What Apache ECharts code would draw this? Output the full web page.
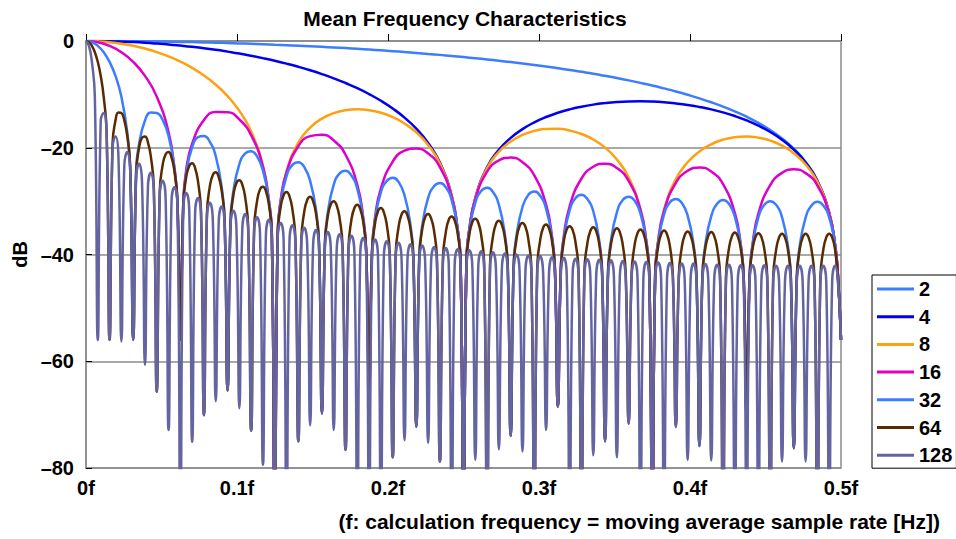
<!DOCTYPE html>
<html><head><meta charset="utf-8">
<script src="https://cdn.jsdelivr.net/npm/echarts@6/dist/echarts.min.js"></script>
<style>html,body{margin:0;padding:0;background:#fff}#chart{width:956px;height:539px}</style>
</head><body><div id="chart"></div>
<script>
// ---- data ----
const seriesNames = ['2', '4', '8', '16', '32', '64', '128'];
const xTickLabels = ['0f', '0.1f', '0.2f', '0.3f', '0.4f', '0.5f'];
const yTickLabels = ['–80', '–60', '–40', '–20', '0'];

// frequency spacing between consecutive regular readings of each curve (f units)
const step2 = 1 / 128, step4 = 1 / 128, step8 = 1 / 128, step16 = 1 / 128;
const step32 = 1 / 256, step64 = 1 / 512, step128 = 1 / 512;

// dB readings, N = 2
const db2 = [
  0, 0, -0.01, -0.02, -0.04, -0.07, -0.09, -0.13,
  -0.17, -0.21, -0.26, -0.32, -0.38, -0.45, -0.52, -0.6,
  -0.69, -0.78, -0.88, -0.98, -1.09, -1.21, -1.33, -1.46,
  -1.6, -1.75, -1.9, -2.07, -2.24, -2.42, -2.6, -2.8,
  -3.01, -3.23, -3.46, -3.7, -3.95, -4.22, -4.5, -4.79,
  -5.11, -5.43, -5.78, -6.14, -6.53, -6.94, -7.38, -7.85,
  -8.34, -8.88, -9.45, -10.07, -10.74, -11.48, -12.29, -13.19,
  -14.19, -15.34, -16.67, -18.24, -20.17, -22.67, -26.18, -32.2,
  -56
];
// N = 4
const db4 = [
  0, -0.01, -0.05, -0.12, -0.21, -0.33, -0.48, -0.65,
  -0.86, -1.09, -1.36, -1.65, -1.99, -2.35, -2.76, -3.21,
  -3.7, -4.24, -4.83, -5.48, -6.2, -6.99, -7.87, -8.84,
  -9.95, -11.2, -12.65, -14.35, -16.43, -19.08, -22.78, -28.99,
  -90, -29.41, -23.63, -20.37, -18.15, -16.51, -15.24, -14.24,
  -13.45, -12.81, -12.31, -11.92, -11.64, -11.44, -11.33, -11.3,
  -11.35, -11.48, -11.69, -11.97, -12.35, -12.81, -13.38, -14.06,
  -14.88, -15.86, -17.05, -18.51, -20.34, -22.76, -26.23, -32.21,
  -56
];
// N = 8
const db8 = [
  0, -0.06, -0.22, -0.5, -0.9, -1.42, -2.08, -2.89,
  -3.87, -5.04, -6.46, -8.19, -10.33, -13.1, -16.95, -23.38,
  -90, -24.41, -19.02, -16.22, -14.54, -13.52, -12.97, -12.8,
  -12.96, -13.44, -14.25, -15.45, -17.12, -19.47, -22.95, -29.03,
  -90, -29.46, -23.8, -20.75, -18.84, -17.6, -16.84, -16.48,
  -16.46, -16.77, -17.42, -18.45, -19.98, -22.19, -25.53, -31.48,
  -90, -31.65, -25.88, -22.72, -20.69, -19.35, -18.48, -18.02,
  -17.89, -18.1, -18.66, -19.6, -21.03, -23.14, -26.39, -32.25,
  -56
];
// N = 16
const db16 = [
  0, -0.22, -0.91, -2.1, -3.91, -6.53, -10.42, -17.1,
  -56, -19.24, -14.8, -13.29, -13.34, -14.7, -17.64, -23.55,
  -90, -24.58, -19.71, -17.83, -17.55, -18.62, -21.31, -26.99,
  -65, -27.63, -22.59, -20.55, -20.13, -21.07, -23.64, -29.19,
  -90, -29.62, -24.49, -22.35, -21.85, -22.7, -25.19, -30.67,
  -68.5, -30.96, -25.76, -23.56, -22.99, -23.79, -26.21, -31.65,
  -90, -31.82, -26.57, -24.32, -23.7, -24.45, -26.83, -32.21,
  -70, -32.29, -27.0, -24.71, -24.04, -24.75, -27.08, -32.43,
  -56
];
// N = 32
const db32 = [
  0, -0.22, -0.91, -2.11, -3.92, -6.55, -10.45, -17.13,
  -56, -19.3, -14.9, -13.4, -13.5, -14.8, -17.8, -23.7,
  -56, -24.7, -19.9, -18.0, -17.8, -18.9, -21.6, -27.4,
  -65.5, -28.05, -23.05, -21.04, -20.65, -21.63, -24.24, -29.84,
  -90, -30.4, -25.3, -23.2, -22.7, -23.6, -26.2, -31.7,
  -69.8, -32.1, -26.9, -24.8, -24.3, -25.2, -27.7, -33.2,
  -65, -33.5, -28.3, -26.2, -25.6, -26.4, -28.9, -34.4,
  -72.3, -34.6, -29.4, -27.2, -26.6, -27.4, -29.8, -35.3,
  -90, -35.5, -30.3, -28.1, -27.5, -28.3, -30.7, -36.1,
  -74, -36.3, -31.1, -28.8, -28.2, -29.0, -31.4, -36.8,
  -68.5, -37.0, -31.7, -29.4, -28.8, -29.6, -31.9, -37.3,
  -75, -37.4, -32.1, -29.8, -29.2, -29.9, -32.3, -37.7,
  -90, -37.8, -32.5, -30.2, -29.6, -30.3, -32.7, -38.1,
  -75.9, -38.1, -32.8, -30.5, -29.8, -30.5, -32.9, -38.2,
  -70, -38.3, -33.0, -30.7, -30.0, -30.7, -33.0, -38.4,
  -76.3, -38.4, -33.1, -30.8, -30.1, -30.8, -33.1, -38.4,
  -56
];
// N = 64
const db64 = [
  0, -0.22, -0.91, -2.11, -3.92, -6.55, -10.45, -17.13,
  -56, -19.3, -14.9, -13.4, -13.5, -14.9, -17.8, -23.7,
  -56, -24.8, -20.0, -18.1, -17.9, -19.0, -21.7, -27.5,
  -65.7, -28.2, -23.2, -21.2, -20.8, -21.8, -24.4, -30.1,
  -56, -30.5, -25.4, -23.4, -22.9, -23.8, -26.4, -32.0,
  -70.1, -32.4, -27.2, -25.1, -24.6, -25.5, -28.0, -33.5,
  -65.5, -34.0, -28.8, -26.6, -26.1, -26.9, -29.4, -34.9,
  -73, -35.2, -30.0, -27.8, -27.3, -28.1, -30.6, -36.1,
  -90, -36.3, -31.1, -28.9, -28.3, -29.1, -31.6, -37.0,
  -75, -37.2, -32.0, -29.8, -29.2, -30.0, -32.4, -37.9,
  -69.8, -38.1, -32.8, -30.6, -30.0, -30.8, -33.2, -38.6,
  -76.6, -38.8, -33.5, -31.3, -30.7, -31.5, -33.9, -39.3,
  -65, -39.4, -34.2, -31.9, -31.3, -32.1, -34.5, -39.9,
  -78, -40.0, -34.8, -32.5, -31.9, -32.7, -35.1, -40.5,
  -72.3, -40.6, -35.3, -33.0, -32.4, -33.2, -35.5, -40.9,
  -78.8, -41.1, -35.8, -33.5, -32.9, -33.6, -36.0, -41.4,
  -90, -41.5, -36.2, -33.9, -33.3, -34.0, -36.4, -41.8,
  -90, -41.9, -36.6, -34.3, -33.7, -34.4, -36.8, -42.2,
  -74, -42.3, -37.0, -34.7, -34.1, -34.8, -37.2, -42.6,
  -90, -42.6, -37.3, -35.0, -34.4, -35.1, -37.5, -42.9,
  -68.5, -42.9, -37.6, -35.3, -34.7, -35.4, -37.8, -43.1,
  -90, -43.1, -37.9, -35.6, -34.9, -35.6, -38.0, -43.3,
  -75, -43.4, -38.1, -35.8, -35.1, -35.8, -38.2, -43.5,
  -71.7, -43.6, -38.3, -36.0, -35.3, -36.0, -38.4, -43.7,
  -90, -43.8, -38.5, -36.2, -35.5, -36.2, -38.5, -43.9,
  -72.3, -44.0, -38.7, -36.4, -35.7, -36.4, -38.7, -44.0,
  -75.9, -44.1, -38.8, -36.5, -35.8, -36.5, -38.8, -44.1,
  -90, -44.2, -38.9, -36.6, -35.9, -36.6, -38.9, -44.2,
  -70, -44.3, -39.0, -36.7, -36.0, -36.7, -39.0, -44.3,
  -90, -44.4, -39.1, -36.8, -36.1, -36.8, -39.1, -44.4,
  -76.3, -44.4, -39.1, -36.8, -36.1, -36.8, -39.1, -44.4,
  -90, -44.4, -39.1, -36.8, -36.1, -36.8, -39.1, -44.4,
  -56
];
// N = 128
const db128 = [
  0, -0.9, -3.9, -10.5,
  -56, -14.9, -13.5, -17.8,
  -56, -20.0, -17.9, -21.7,
  -56.3, -23.2, -20.8, -24.4,
  -56, -25.5, -23.0, -26.5,
  -60.7, -27.3, -24.7, -28.1,
  -65.7, -28.8, -26.2, -29.5,
  -72.9, -30.1, -27.4, -30.7,
  -90, -31.2, -28.5, -31.7,
  -75.1, -32.2, -29.4, -32.6,
  -70.1, -33.1, -30.3, -33.5,
  -67.5, -33.9, -31.0, -34.2,
  -65.5, -34.6, -31.8, -34.9,
  -68.8, -35.2, -32.4, -35.6,
  -73, -35.9, -33.0, -36.1,
  -79.4, -36.4, -33.5, -36.7,
  -90, -36.9, -34.1, -37.2,
  -90, -37.4, -34.5, -37.7,
  -75, -37.9, -35.0, -38.1,
  -72, -38.3, -35.4, -38.5,
  -69.8, -38.7, -35.8, -38.9,
  -72.9, -39.1, -36.2, -39.3,
  -76.6, -39.5, -36.5, -39.6,
  -90, -39.8, -36.9, -40.0,
  -90, -40.1, -37.2, -40.3,
  -90, -40.4, -37.5, -40.6,
  -78, -40.7, -37.8, -40.9,
  -74.8, -41.0, -38.1, -41.1,
  -72.3, -41.3, -38.3, -41.4,
  -75.3, -41.5, -38.6, -41.6,
  -78.8, -41.8, -38.8, -41.9,
  -90, -42.0, -39.0, -42.1,
  -90, -42.2, -39.2, -42.3,
  -78.5, -42.4, -39.4, -42.5,
  -90, -42.6, -39.6, -42.7,
  -76.5, -42.8, -39.8, -42.9,
  -74, -43.0, -40.0, -43.0,
  -76.9, -43.1, -40.2, -43.2,
  -90, -43.3, -40.3, -43.4,
  -72.9, -43.4, -40.5, -43.5,
  -68.5, -43.6, -40.6, -43.7,
  -90, -43.7, -40.8, -43.8,
  -90, -43.9, -40.9, -43.9,
  -77.6, -44.0, -41.0, -44.0,
  -75, -44.1, -41.1, -44.1,
  -78, -44.2, -41.2, -44.3,
  -71.7, -44.3, -41.3, -44.4,
  -90, -44.4, -41.4, -44.5,
  -90, -44.5, -41.5, -44.5,
  -90, -44.6, -41.6, -44.6,
  -72.3, -44.6, -41.7, -44.7,
  -78.5, -44.7, -41.7, -44.8,
  -75.9, -44.8, -41.8, -44.8,
  -78.6, -44.8, -41.9, -44.9,
  -90, -44.9, -41.9, -44.9,
  -90, -45.0, -42.0, -45.0,
  -90, -45.0, -42.0, -45.0,
  -90, -45.0, -42.0, -45.1,
  -90, -45.1, -42.1, -45.1,
  -78.8, -45.1, -42.1, -45.1,
  -76.3, -45.1, -42.1, -45.1,
  -78.8, -45.1, -42.1, -45.1,
  -90, -45.1, -42.1, -45.1,
  -90, -45.1, -42.1, -45.1,
  -56
];

// extra readings taken close to the notches ([f, dB])
const nearNull2 = [[0.49609, -38.2], [0.49805, -44.2]];
const nearNull4 = [
  [0.24609, -35.2], [0.24805, -41.2], [0.25195, -41.2], [0.25391, -35.2],
  [0.49609, -38.2], [0.49805, -44.2]
];
const nearNull8 = [
  [0.12109, -29.9], [0.12305, -35.9], [0.12695, -35.9], [0.12891, -29.9],
  [0.24609, -35.2], [0.24805, -41.2], [0.25195, -41.2], [0.25391, -35.2],
  [0.37109, -37.5], [0.37305, -43.6], [0.37695, -43.6], [0.37891, -37.5],
  [0.49609, -38.2], [0.49805, -44.2]
];
const nearNull16 = [
  [0.05859, -24.0], [0.06055, -30.1], [0.06445, -30.1], [0.06641, -24.0],
  [0.12109, -29.9], [0.12305, -35.9], [0.12695, -35.9], [0.12891, -29.9],
  [0.18359, -33.1], [0.18555, -39.1], [0.18945, -39.1], [0.19141, -33.1],
  [0.24609, -35.2], [0.24805, -41.2], [0.25195, -41.2], [0.25391, -35.2],
  [0.30859, -36.6], [0.31055, -42.6], [0.31445, -42.6], [0.31641, -36.6],
  [0.37109, -37.5], [0.37305, -43.6], [0.37695, -43.6], [0.37891, -37.5],
  [0.43359, -38.1], [0.43555, -44.1], [0.43945, -44.1], [0.44141, -38.1],
  [0.49609, -38.2], [0.49805, -44.2]
];
const nearNull32 = [
  [0.0293, -24.1], [0.0332, -24.1], [0.06055, -30.1], [0.06445, -30.1],
  [0.0918, -33.5], [0.0957, -33.5], [0.12305, -35.9], [0.12695, -35.9],
  [0.1543, -37.7], [0.1582, -37.7], [0.18555, -39.1], [0.18945, -39.1],
  [0.2168, -40.3], [0.2207, -40.3], [0.24805, -41.2], [0.25195, -41.2],
  [0.2793, -42.0], [0.2832, -42.0], [0.31055, -42.6], [0.31445, -42.6],
  [0.3418, -43.2], [0.3457, -43.2], [0.37305, -43.6], [0.37695, -43.6],
  [0.4043, -43.9], [0.4082, -43.9], [0.43555, -44.1], [0.43945, -44.1],
  [0.4668, -44.2], [0.4707, -44.2]
];

// ---- styling ----
const FONT = '"Liberation Sans", Arial, Helvetica, sans-serif';
const seriesColors = ['#3c7dff', '#0000ee', '#ffa010', '#dc00c8', '#3c7dff', '#5a2a00', '#6464a0'];
const seriesDb = [db2, db4, db8, db16, db32, db64, db128];
const seriesStep = [step2, step4, step8, step16, step32, step64, step128];
const seriesExtra = [nearNull2, nearNull4, nearNull8, nearNull16, nearNull32, [], []];

function buildPoints(db, step, extra) {
  return db.map((v, i) => [i * step, v])
    .concat(extra)
    .sort((a, b) => a[0] - b[0]);
}

const chart = echarts.init(document.getElementById('chart'), null, { renderer: 'svg' });

const series = seriesNames.map((name, s) => ({
  name: name,
  type: 'line',
  data: buildPoints(seriesDb[s], seriesStep[s], seriesExtra[s]),
  symbol: 'none',
  smooth: 0.5,
  clip: true,
  color: seriesColors[s],
  lineStyle: { color: seriesColors[s], width: 2.5 },
  emphasis: { disabled: true },
  z: 2 + s
}));

chart.setOption({
  animation: false,
  backgroundColor: '#ffffff',
  title: [
    {
      text: 'Mean Frequency Characteristics',
      left: 465, top: 8, padding: 0, textAlign: 'center',
      textStyle: { fontFamily: FONT, fontWeight: 'bold', fontSize: 21, color: '#000' }
    },
    {
      text: '(f: calculation frequency = moving average sample rate [Hz])',
      right: 16, top: 511, padding: 0,
      textStyle: { fontFamily: FONT, fontWeight: 'bold', fontSize: 21, color: '#000' }
    }
  ],
  legend: {
    orient: 'vertical', left: 872, top: 275,
    padding: [4, 4, 3, 5], itemGap: 7.7, itemWidth: 37, itemHeight: 3,
    icon: 'rect', borderColor: '#000', borderWidth: 1, backgroundColor: '#fff',
    textStyle: { fontFamily: FONT, fontWeight: 'bold', fontSize: 20, color: '#000', lineHeight: 20 },
    data: seriesNames
  },
  grid: {
    left: 86, right: 115, top: 41, bottom: 71,
    show: true, borderColor: '#8c8c8c', borderWidth: 1.5
  },
  xAxis: {
    type: 'value', min: 0, max: 0.5, interval: 0.1,
    axisLine: { show: true, lineStyle: { color: '#8c8c8c', width: 1.5 } },
    axisTick: { show: true, inside: true, length: 7, lineStyle: { color: '#000', width: 1 } },
    axisLabel: {
      margin: 10, fontFamily: FONT, fontWeight: 'bold', fontSize: 20, color: '#000',
      formatter: v => xTickLabels[Math.round(v * 10)]
    },
    splitLine: { show: false }
  },
  yAxis: {
    type: 'value', min: -80, max: 0, interval: 20,
    name: 'dB', nameLocation: 'middle', nameRotate: 90, nameGap: 52,
    nameTextStyle: { fontFamily: FONT, fontWeight: 'bold', fontSize: 20, color: '#000' },
    axisLine: { show: true, lineStyle: { color: '#8c8c8c', width: 1.5 } },
    axisTick: { show: true, inside: true, length: 6, lineStyle: { color: '#000', width: 1 } },
    axisLabel: {
      margin: 12, fontFamily: FONT, fontWeight: 'bold', fontSize: 20, color: '#000',
      formatter: v => yTickLabels[Math.round((v + 80) / 20)]
    },
    splitLine: { show: true, lineStyle: { color: '#8c8c8c', width: 1.5 } }
  },
  series: series
});
</script>
</body></html>
